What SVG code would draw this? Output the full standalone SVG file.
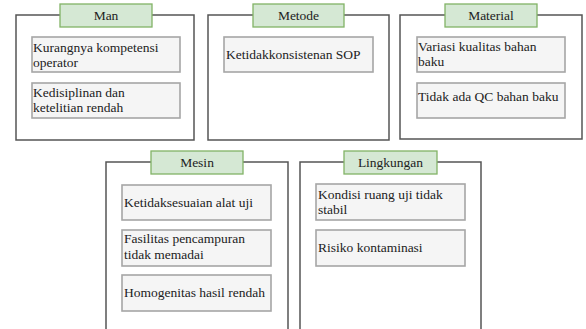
<svg xmlns="http://www.w3.org/2000/svg" width="586" height="329" viewBox="0 0 586 329">
<style>
.panel{fill:#ffffff;stroke:#555555;stroke-width:1.5}
.tab{fill:#d5e8d4;stroke:#82b366;stroke-width:1.3}
.item{fill:#f5f5f5;stroke:#a6a6a6;stroke-width:1.6}
text{font-family:"Liberation Serif","Times New Roman",serif;font-size:13.5px;fill:#222222}
.h{text-anchor:middle}
</style>
<rect width="586" height="329" fill="#ffffff"/>
<g id="man">
<rect class="panel" x="16" y="15" width="178" height="125"/>
<rect class="tab" x="60" y="4" width="92" height="23"/>
<text class="h" x="106" y="20">Man</text>
<rect class="item" x="32" y="37" width="148" height="35"/>
<text x="33" y="51.5">Kurangnya kompetensi</text>
<text x="33" y="67">operator</text>
<rect class="item" x="32" y="83" width="148" height="35"/>
<text x="33" y="96.7">Kedisiplinan dan</text>
<text x="33" y="111.7">ketelitian rendah</text>
</g>
<g id="metode">
<rect class="panel" x="208" y="15" width="181" height="125"/>
<rect class="tab" x="253" y="4" width="91" height="23"/>
<text class="h" x="298.5" y="20">Metode</text>
<rect class="item" x="224" y="37" width="149" height="35"/>
<text x="226" y="59.3">Ketidakkonsistenan SOP</text>
</g>
<g id="material">
<rect class="panel" x="400" y="15" width="182" height="124"/>
<rect class="tab" x="445" y="4" width="92" height="23"/>
<text class="h" x="491" y="20">Material</text>
<rect class="item" x="417" y="37" width="148" height="35"/>
<text x="418" y="50.5">Variasi kualitas bahan</text>
<text x="418" y="66">baku</text>
<rect class="item" x="417" y="83" width="148" height="35"/>
<text x="418" y="100.5">Tidak ada QC bahan baku</text>
</g>
<g id="mesin">
<rect class="panel" x="106" y="162" width="182" height="180"/>
<rect class="tab" x="151" y="151" width="92" height="23"/>
<text class="h" x="197" y="167">Mesin</text>
<rect class="item" x="122" y="185" width="149" height="35"/>
<text x="124" y="206.7">Ketidaksesuaian alat uji</text>
<rect class="item" x="122" y="230" width="149" height="36"/>
<text x="124" y="243.3">Fasilitas pencampuran</text>
<text x="124" y="259">tidak memadai</text>
<rect class="item" x="122" y="275" width="149" height="36"/>
<text x="124" y="296.7">Homogenitas hasil rendah</text>
</g>
<g id="lingkungan">
<rect class="panel" x="300" y="162" width="181" height="180"/>
<rect class="tab" x="344" y="151" width="93" height="23"/>
<text class="h" x="390.5" y="167">Lingkungan</text>
<rect class="item" x="316" y="184" width="149" height="36"/>
<text x="318" y="199">Kondisi ruang uji tidak</text>
<text x="318" y="214">stabil</text>
<rect class="item" x="316" y="230" width="149" height="36"/>
<text x="318" y="251.7">Risiko kontaminasi</text>
</g>
<g id="connectors"></g>
</svg>
